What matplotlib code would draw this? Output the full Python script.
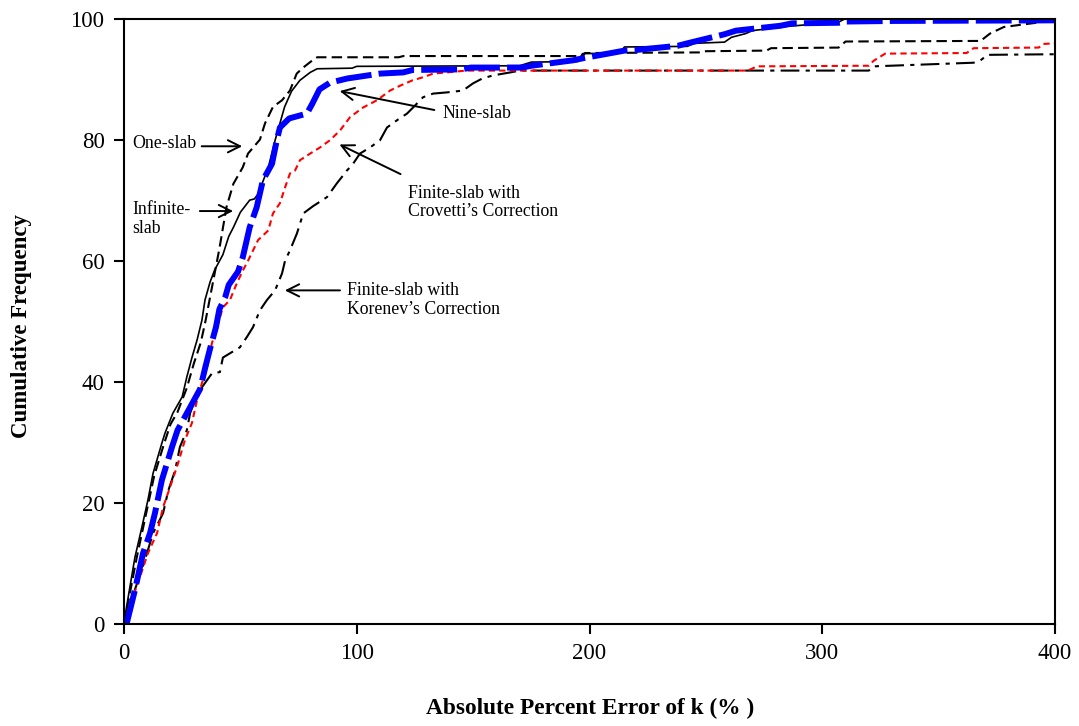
import matplotlib
matplotlib.use("Agg")
import matplotlib.pyplot as plt

# absolute percent error of k (%) vs cumulative frequency
one_x = [0, 1, 3, 5.5, 8, 10.5, 13, 17, 20, 23, 27, 30, 33, 35, 37, 39, 41, 44, 47, 51, 53.3,
         58.4, 60.6, 64, 67.9, 71.3, 74.2, 77, 81, 83, 118, 120, 197, 198, 247, 250, 276, 278,
         307, 310, 368, 372, 378, 380, 400]
one_y = [0, 2, 6, 11, 15.5, 20, 24.5, 29.5, 33, 35, 39, 43, 46.5, 50, 54, 58, 62, 68.8, 72.7, 75.4, 77.7,
         80, 82.7, 85.4, 86.5, 88.1, 90.9, 91.9, 93.1, 93.6, 93.6, 93.8, 93.8, 94.3, 94.4, 94.6, 94.7, 95.1,
         95.2, 96.2, 96.3, 97.5, 98.6, 98.7, 99.7]

inf_x = [0, 0.4, 2.5, 4.7, 7.7, 10.3, 12.5, 16.3, 17.6, 21, 25, 27, 29.2, 31.4, 33.5, 34.8, 37, 39,
         42.5, 45, 47, 50, 54, 56, 57.6, 62, 65, 67, 69, 72, 75.6, 80, 83, 98, 100, 170, 175, 195,
         197, 213, 215, 242, 245, 258, 261, 267, 270, 285, 307, 310, 400]
inf_y = [0, 1.2, 6, 11, 16, 20.5, 24.9, 29.9, 31.5, 34.8, 37.5, 40.8, 44, 46.9, 50.2, 53.5, 56.5, 58.5,
         61, 64, 65.5, 68, 70, 70.2, 71, 75.4, 80, 82.7, 85.4, 88, 89.8, 91.1, 91.7, 91.8, 92.1, 92.2, 92.8, 92.9,
         94.2, 94.3, 95.3, 95.4, 95.9, 96.1, 96.9, 97.5, 98, 98.7, 99.4, 100, 100]

nine_x = [0, 1.3, 4.7, 8.2, 11.2, 13.3, 16.3, 20.6, 23, 28, 32.7, 35, 37, 39.5, 41, 43.5, 45, 49, 51,
          54, 57, 59.7, 63.6, 65.7, 67, 71, 78.6, 81, 84, 88.5, 96, 110, 120, 124, 145, 149, 171,
          175, 193, 198, 215, 220, 238, 242, 258, 263, 282, 287, 307, 310, 331, 400]
nine_y = [0, 0.3, 5.6, 11.7, 15, 18.3, 23.8, 29.2, 32, 35.5, 38.8, 42.5, 45.5, 49, 52, 54, 56, 58.2, 60.5,
          65.5, 68.8, 73.3, 76, 80, 82, 83.5, 84.3, 86, 88.3, 89.4, 90.1, 90.9, 91.1, 91.5, 91.6, 91.9, 91.9,
          92.2, 93.1, 93.5, 94.7, 94.8, 95.5, 95.9, 97.4, 98, 98.8, 99.2, 99.3, 99.5, 99.6, 99.7]

cro_x = [0, 0.4, 3.9, 6.9, 10.3, 14.2, 16.8, 19.8, 23.2, 26.2, 29.2, 31.4, 33.5, 35.7, 37.8, 40, 42.5,
         45.5, 48.5, 51.1, 53.3, 57.6, 62, 64, 67, 69.2, 71.3, 73.5, 75.6, 80, 84.2, 88.5, 92.8, 97.1,
         102.7, 108.7, 114.3, 118.6, 124, 128.5, 132.8, 138.8, 147, 268, 272, 320, 322, 327, 362, 365,
         393, 395, 400]
cro_y = [0, 1.2, 4.5, 7.8, 11.7, 15, 19.3, 22.6, 26.5, 30.4, 33.2, 37, 39.8, 42.4, 46.4, 49, 52.3,
         53.5, 56.3, 58.4, 60, 63.4, 65, 67.8, 69.5, 72.1, 74.4, 74.9, 76.6, 77.7, 78.7, 79.9, 81.5, 83.7,
         85.3, 86.5, 88.1, 88.9, 89.8, 90.3, 90.9, 91.1, 91.4, 91.4, 92.1, 92.2, 93, 94.2, 94.3, 95.1,
         95.2, 95.8, 95.9]

kor_x = [0, 1.7, 5.6, 9, 12.5, 16.8, 19, 22, 24, 27, 28.4, 30.5, 33.5, 37.8, 41.2, 42.5, 45.5, 49.8,
         52.8, 55.4, 58.4, 61.4, 64.9, 66.2, 67.9, 69.2, 71.3, 74.3, 77, 81.2, 87.2, 91.5, 95.8, 98.4,
         101.4, 105.7, 110, 113, 117.3, 121.6, 124.2, 128.5, 132.8, 138.8, 145.6, 150, 154, 158.5, 166,
         170, 320, 322, 365, 368, 371, 400]
kor_y = [0, 2.3, 6.7, 10.6, 15, 18.3, 22, 25.4, 29.2, 32, 34.8, 37, 39.1, 41.4, 41.6, 44, 44.7, 45.7,
         47.4, 49, 51.8, 53.5, 55.1, 56.3, 57.9, 60, 61.7, 64.5, 67.8, 69, 70.5, 72.8, 74.9, 76,
         77.7, 78.7, 79.9, 82, 83.2, 84.3, 85.3, 87, 87.6, 87.8, 88.1, 89.3, 90.1, 90.6, 91.1,
         91.4, 91.4, 92.1, 92.7, 93.1, 94, 94.1]

# (label, arrow tip, text position) in data units
notes = [
    ("One-slab", (52, 78.9), (3.4, 79.4)),
    ("Infinite-\nslab", (48.1, 68.2), (3.4, 66.9)),
    ("Nine-slab", (91.5, 88.1), (137, 84.3)),
    ("Finite-slab with\nCrovetti\u2019s Correction", (91.5, 79.4), (122, 69.6)),
    ("Finite-slab with\nKorenev\u2019s Correction", (67.9, 55.1), (95.8, 53.5)),
]
arrow_tails = [(32.2, 78.9), (31.4, 68.2), (134.5, 84.8), (119.9, 74.1), (94, 55.1)]

plt.rcParams["font.family"] = ["Liberation Serif", "DejaVu Serif"]

fig = plt.figure(figsize=(10.79, 7.26), dpi=100)
ax = fig.add_axes([0.1149, 0.1405, 0.8629, 0.834])

ax.plot(kor_x, kor_y, color="black", lw=1.5, dashes=(9, 3, 2, 3))
ax.plot(cro_x, cro_y, color="red", lw=1.5, dashes=(3, 2))
ax.plot(one_x, one_y, color="black", lw=1.5, dashes=(5, 2.5))
ax.plot(inf_x, inf_y, color="black", lw=1.2)
ax.plot(nine_x, nine_y, color="blue", lw=4.3, dashes=(6, 1.2), solid_capstyle="butt")

for (label, tip, txt), tail in zip(notes, arrow_tails):
    ax.annotate("", xy=tip, xytext=tail,
                arrowprops=dict(arrowstyle="->", color="black", lw=1.4, mutation_scale=22))
    ax.text(txt[0], txt[1], label, fontsize=12.8, ha="left", va="center", linespacing=1.1)

ax.set_xlim(0, 400)
ax.set_ylim(0, 100)
ax.set_xticks([0, 100, 200, 300, 400])
ax.set_yticks([0, 20, 40, 60, 80, 100])
ax.tick_params(direction="out", length=7, width=1.5, labelsize=16.5, pad=7)
for s in ax.spines.values():
    s.set_linewidth(1.5)

fig.text(590 / 1079, 1 - 708 / 726, "Absolute Percent Error of k (% )",
         fontsize=16.8, fontweight="bold", ha="center", va="center")
fig.text(22 / 1079, 1 - 326 / 726, "Cumulative Frequency",
         fontsize=16.5, fontweight="bold", ha="center", va="center", rotation=90)

fig.savefig("out.png", dpi=100)
